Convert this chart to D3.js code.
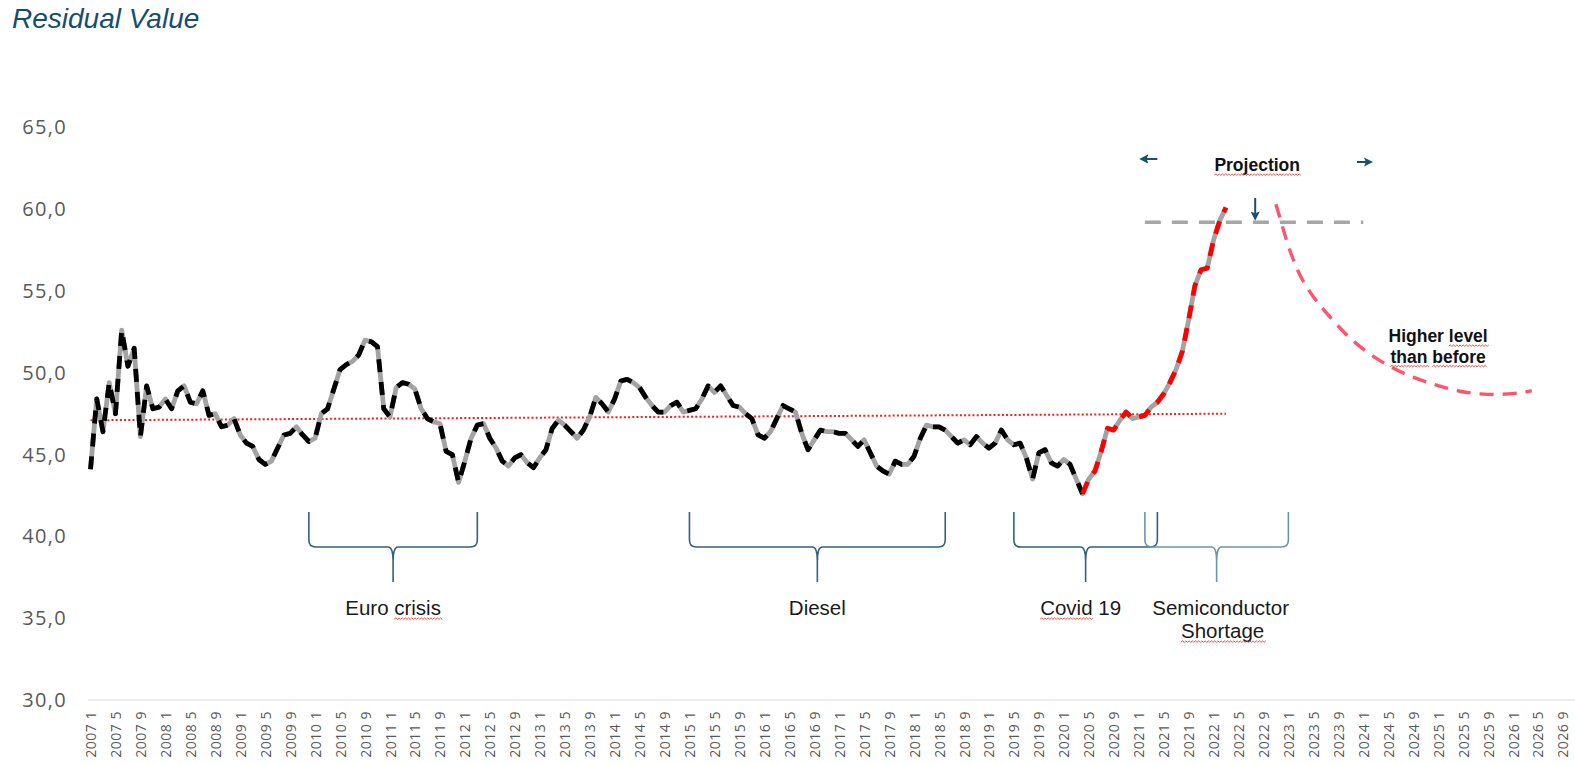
<!DOCTYPE html>
<html>
<head>
<meta charset="utf-8">
<script src="https://cdn.jsdelivr.net/npm/d3@7"></script>
<style>
  html, body { margin: 0; padding: 0; background: #ffffff; }
  svg { display: block; }
</style>
</head>
<body>
<svg id="chart" width="1575" height="765"></svg>
<script>
// ---- Data -------------------------------------------------------------
const years = [2007, 2008, 2009, 2010, 2011, 2012, 2013, 2014, 2015, 2016,
               2017, 2018, 2019, 2020, 2021, 2022, 2023, 2024, 2025, 2026];
const months = [1, 2, 3, 4, 5, 6, 7, 8, 9, 10, 11, 12];
const categories = years.flatMap(y => months.map(m => `${y} ${m}`));
const tickLabels = categories.filter((c, i) => i % 4 === 0);

const yTicks = [30, 35, 40, 45, 50, 55, 60, 65];

// Monthly residual value index, 2007 1 .. 2022 3
const residualValue = [
  44.1, 48.4, 46.4, 49.4, 47.5, 52.6, 50.4, 51.5, 46.1, 49.2,
  47.8, 47.9, 48.4, 47.8, 48.9, 49.2, 48.2, 48.1, 48.9, 47.4,
  47.5, 46.7, 46.8, 47.2, 46.2, 45.7, 45.5, 44.7, 44.4, 44.6,
  45.4, 46.2, 46.3, 46.7, 46.2, 45.8, 46.0, 47.5, 47.8, 49.0,
  50.2, 50.5, 50.7, 51.1, 52.0, 51.9, 51.6, 47.8, 47.3, 49.1,
  49.4, 49.3, 49.0, 47.8, 47.2, 47.0, 46.9, 45.2, 45.0, 43.3,
  44.6, 46.0, 46.8, 46.9, 46.0, 45.4, 44.6, 44.3, 44.8, 45.0,
  44.5, 44.2, 44.8, 45.3, 46.6, 47.1, 46.8, 46.4, 46.0, 46.5,
  47.3, 48.5, 48.1, 47.6, 48.4, 49.5, 49.6, 49.4, 49.1, 48.5,
  48.0, 47.6, 47.6, 48.0, 48.2, 47.6, 47.7, 47.8, 48.4, 49.2,
  48.8, 49.2, 48.6, 48.0, 47.9, 47.5, 47.2, 46.2, 46.0, 46.4,
  47.2, 48.0, 47.8, 47.6, 46.3, 45.3, 45.9, 46.5, 46.4, 46.4,
  46.3, 46.3, 45.9, 45.5, 45.9, 45.1, 44.3, 44.0, 43.8, 44.6,
  44.4, 44.4, 44.9, 46.0, 46.8, 46.7, 46.7, 46.5, 46.1, 45.7,
  45.9, 45.6, 46.1, 45.7, 45.4, 45.7, 46.5, 45.9, 45.6, 45.7,
  44.8, 43.5, 45.1, 45.3, 44.5, 44.3, 44.7, 44.4, 43.5, 42.6,
  43.5, 44.0, 45.2, 46.6, 46.5, 47.1, 47.6, 47.2, 47.3, 47.4,
  47.9, 48.2, 48.7, 49.4, 50.2, 51.3, 53.2, 55.3, 56.3, 56.4,
  58.1, 59.3, 60.1
];
// The series turns red from the Covid low onward
const recentStart = "2020 4";

// Linear trend over the observed period
const trendMonths = ["2007 1", "2022 3"];
const trendValues = [47.1, 47.5];

// Peak plateau marker
const levelMonths = ["2021 2", "2024 1"];
const levelValue = 59.2;

// Projected path after the peak
const projectionMonths = ["2022 11", "2022 12", "2023 1", "2023 2", "2023 3", "2023 5",
  "2023 7", "2023 10", "2024 1", "2024 5", "2024 9", "2025 1", "2025 5", "2025 9",
  "2026 1", "2026 4"];
const projectionValues = [60.3, 59.0, 57.7, 56.7, 55.8, 54.6, 53.7, 52.4, 51.4, 50.4,
  49.7, 49.2, 48.8, 48.65, 48.7, 48.9];

// Periods marked with braces below the series
const periods = [
  { name: ["Euro crisis"], from: "2009 12", to: "2012 3", squiggle: [[5, 6]] },
  { name: ["Diesel"], from: "2015 1", to: "2018 6", squiggle: [] },
  { name: ["Covid 19"], from: "2019 5", to: "2021 4", squiggle: [[0, 5]] },
  { name: ["Semiconductor", "Shortage"], from: "2021 2", to: "2023 1", squiggle: [[], [0, 8]] }
];

// ---- Scales -------------------------------------------------------------
const svg = d3.select("#chart");
const monthStep = 6.239;
const x = d3.scalePoint()
  .domain(categories)
  .range([90.5, 90.5 + (categories.length - 1) * monthStep]);
const y = d3.scaleLinear().domain([30, 65]).range([700, 127.4]);

const axisGrey = "#595959";
const braceDark = "#2f6282";
const braceLight = "#6a95ae";
const arrowColor = "#1d4e6b";

// ---- Title ------------------------------------------------------------
svg.append("text")
  .attr("x", 12).attr("y", 27.5)
  .attr("font-family", "'Liberation Sans', Arial, sans-serif")
  .attr("font-style", "italic")
  .attr("font-size", 28)
  .attr("fill", "#154f6f")
  .text("Residual Value");

// ---- Axes -------------------------------------------------------------
const yAxis = svg.append("g")
  .attr("transform", "translate(67,0)")
  .call(d3.axisLeft(y).tickValues(yTicks).tickSize(0).tickPadding(0)
    .tickFormat(d => d.toFixed(1).replace(".", ",")));
yAxis.select(".domain").remove();
yAxis.selectAll("text")
  .attr("font-family", "'Open Sans', sans-serif")
  .attr("font-size", 20)
  .attr("letter-spacing", "1.3px")
  .attr("fill", axisGrey);

svg.append("line")
  .attr("x1", 88).attr("x2", 1575)
  .attr("y1", y(30)).attr("y2", y(30))
  .attr("stroke", "#d9d9d9").attr("stroke-width", 1.2);

const xAxis = svg.append("g")
  .attr("transform", `translate(0,${y(30)})`)
  .call(d3.axisBottom(x).tickValues(tickLabels).tickSize(0));
xAxis.select(".domain").remove();
xAxis.selectAll("text")
  .attr("transform", "rotate(-90)")
  .attr("text-anchor", "end")
  .attr("x", -11).attr("y", 0).attr("dy", "0.36em")
  .attr("font-family", "'Open Sans', sans-serif")
  .attr("font-size", 14)
  .attr("letter-spacing", "0.5px")
  .attr("fill", axisGrey);

// ---- Series -----------------------------------------------------------
const series = residualValue.map((v, i) => ({ c: categories[i], v }));
const splitIdx = categories.indexOf(recentStart);
const line = d3.line().x(d => x(d.c)).y(d => y(d.v));

// trend line (drawn first, under the series)
svg.append("path")
  .datum(trendMonths.map((c, i) => ({ c, v: trendValues[i] })))
  .attr("d", d3.line().x(d => x(d.c)).y(d => y(d.v)))
  .attr("fill", "none").attr("stroke", "#ff1a1a")
  .attr("stroke-width", 2).attr("stroke-dasharray", "2 2.2");

// grey under-stroke
svg.append("path").datum(series)
  .attr("d", line)
  .attr("fill", "none").attr("stroke", "#a3a3a3")
  .attr("stroke-width", 4.8).attr("stroke-linejoin", "round");

// black dashes on the historic part
svg.append("path").datum(series.slice(0, splitIdx + 1))
  .attr("d", line)
  .attr("fill", "none").attr("stroke", "#000000")
  .attr("stroke-width", 4.8).attr("stroke-linejoin", "round")
  .attr("stroke-dasharray", "13 10");

// red dashes on the recent part
svg.append("path").datum(series.slice(splitIdx))
  .attr("d", line)
  .attr("fill", "none").attr("stroke", "#ff0000")
  .attr("stroke-width", 4.8).attr("stroke-linejoin", "round")
  .attr("stroke-dasharray", "13 10");

// plateau level
svg.append("path")
  .datum(levelMonths.map(c => ({ c, v: levelValue })))
  .attr("d", d3.line().x(d => x(d.c)).y(d => y(d.v)))
  .attr("fill", "none").attr("stroke", "#a6a6a6")
  .attr("stroke-width", 3.5).attr("stroke-dasharray", "16 11");

// projection
svg.append("path")
  .datum(projectionMonths.map((c, i) => ({ c, v: projectionValues[i] })))
  .attr("d", d3.line().x(d => x(d.c)).y(d => y(d.v)).curve(d3.curveBasis))
  .attr("fill", "none").attr("stroke", "#ff5470")
  .attr("stroke-width", 3.4).attr("stroke-dasharray", "14 9");

// ---- Spell-check style squiggles under words --------------------------
function squiggle(textNode, from, count) {
  const x0 = textNode.getStartPositionOfChar(from).x;
  const w = textNode.getSubStringLength(from, count);
  const yb = +textNode.getAttribute("y") + 4;
  let d = `M${x0},${yb}`;
  for (let px = x0, k = 0; px < x0 + w; px += 1.6, k++) {
    d += ` L${px + 1.6},${yb + (k % 2 === 0 ? -1.1 : 0.4)}`;
  }
  svg.append("path").attr("d", d).attr("fill", "none")
    .attr("stroke", "#e23a32").attr("stroke-width", 0.9);
}

// ---- Period braces -----------------------------------------------------
const braceTop = 512, braceBar = 547, braceTip = 582;
const labelShift = [[0], [0], [-5], [4, 6]];
periods.forEach((p, i) => {
  const x0 = x(p.from), x1 = x(p.to), cx = (x0 + x1) / 2;
  const r = 7;
  const d = `M${x0},${braceTop} L${x0},${braceBar - r} Q${x0},${braceBar} ${x0 + r},${braceBar}` +
    ` L${cx - 5},${braceBar} Q${cx},${braceBar} ${cx},${braceBar + 14} L${cx},${braceTip}` +
    ` M${cx},${braceBar + 14} Q${cx},${braceBar} ${cx + 5},${braceBar}` +
    ` L${x1 - r},${braceBar} Q${x1},${braceBar} ${x1},${braceBar - r} L${x1},${braceTop}`;
  svg.append("path").attr("d", d).attr("fill", "none")
    .attr("stroke", i === 3 ? braceLight : braceDark)
    .attr("stroke-width", 1.6);

  p.name.forEach((line, j) => {
    const t = svg.append("text")
      .attr("x", cx + labelShift[i][j])
      .attr("y", 615 + j * 23)
      .attr("text-anchor", "middle")
      .attr("font-family", "'Liberation Sans', Arial, sans-serif")
      .attr("font-size", 20.5)
      .attr("fill", "#1a1a1a")
      .text(line);
    const sq = p.squiggle[j];
    if (sq && sq.length) squiggle(t.node(), sq[0], sq[1]);
  });
});

// ---- Projection annotations -------------------------------------------
const defs = svg.append("defs");
defs.append("marker")
  .attr("id", "head").attr("viewBox", "0 0 10 10")
  .attr("refX", 6).attr("refY", 5)
  .attr("markerWidth", 4.6).attr("markerHeight", 4.6)
  .attr("orient", "auto-start-reverse")
  .append("path").attr("d", "M0,0 L10,5 L0,10 L2,5 z").attr("fill", arrowColor);

const arrow = (xa, ya, xb, yb) => svg.append("line")
  .attr("x1", xa).attr("y1", ya).attr("x2", xb).attr("y2", yb)
  .attr("stroke", arrowColor).attr("stroke-width", 2)
  .attr("marker-end", "url(#head)");

arrow(x("2021 4"), 159, x("2021 2") - 2, 159);
arrow(x("2023 12"), 162, x("2024 2"), 162);
arrow(x("2022 8") - 2, 198, x("2022 8") - 2, 217);

const proj = svg.append("text")
  .attr("x", x("2022 8")).attr("y", 171)
  .attr("text-anchor", "middle")
  .attr("font-family", "'Liberation Sans', Arial, sans-serif")
  .attr("font-weight", "bold").attr("font-size", 17.5)
  .attr("fill", "#111111")
  .text("Projection");
squiggle(proj.node(), 0, 10);

[["Higher level", [[7, 5]]], ["than before", [[0, 4], [5, 6]]]].forEach(([txt, sqs], j) => {
  const t = svg.append("text")
    .attr("x", x("2025 1")).attr("y", 342 + j * 20.5)
    .attr("text-anchor", "middle")
    .attr("font-family", "'Liberation Sans', Arial, sans-serif")
    .attr("font-weight", "bold").attr("font-size", 17.5)
    .attr("fill", "#111111")
    .text(txt);
  sqs.forEach(s => squiggle(t.node(), s[0], s[1]));
});
</script>
</body>
</html>
